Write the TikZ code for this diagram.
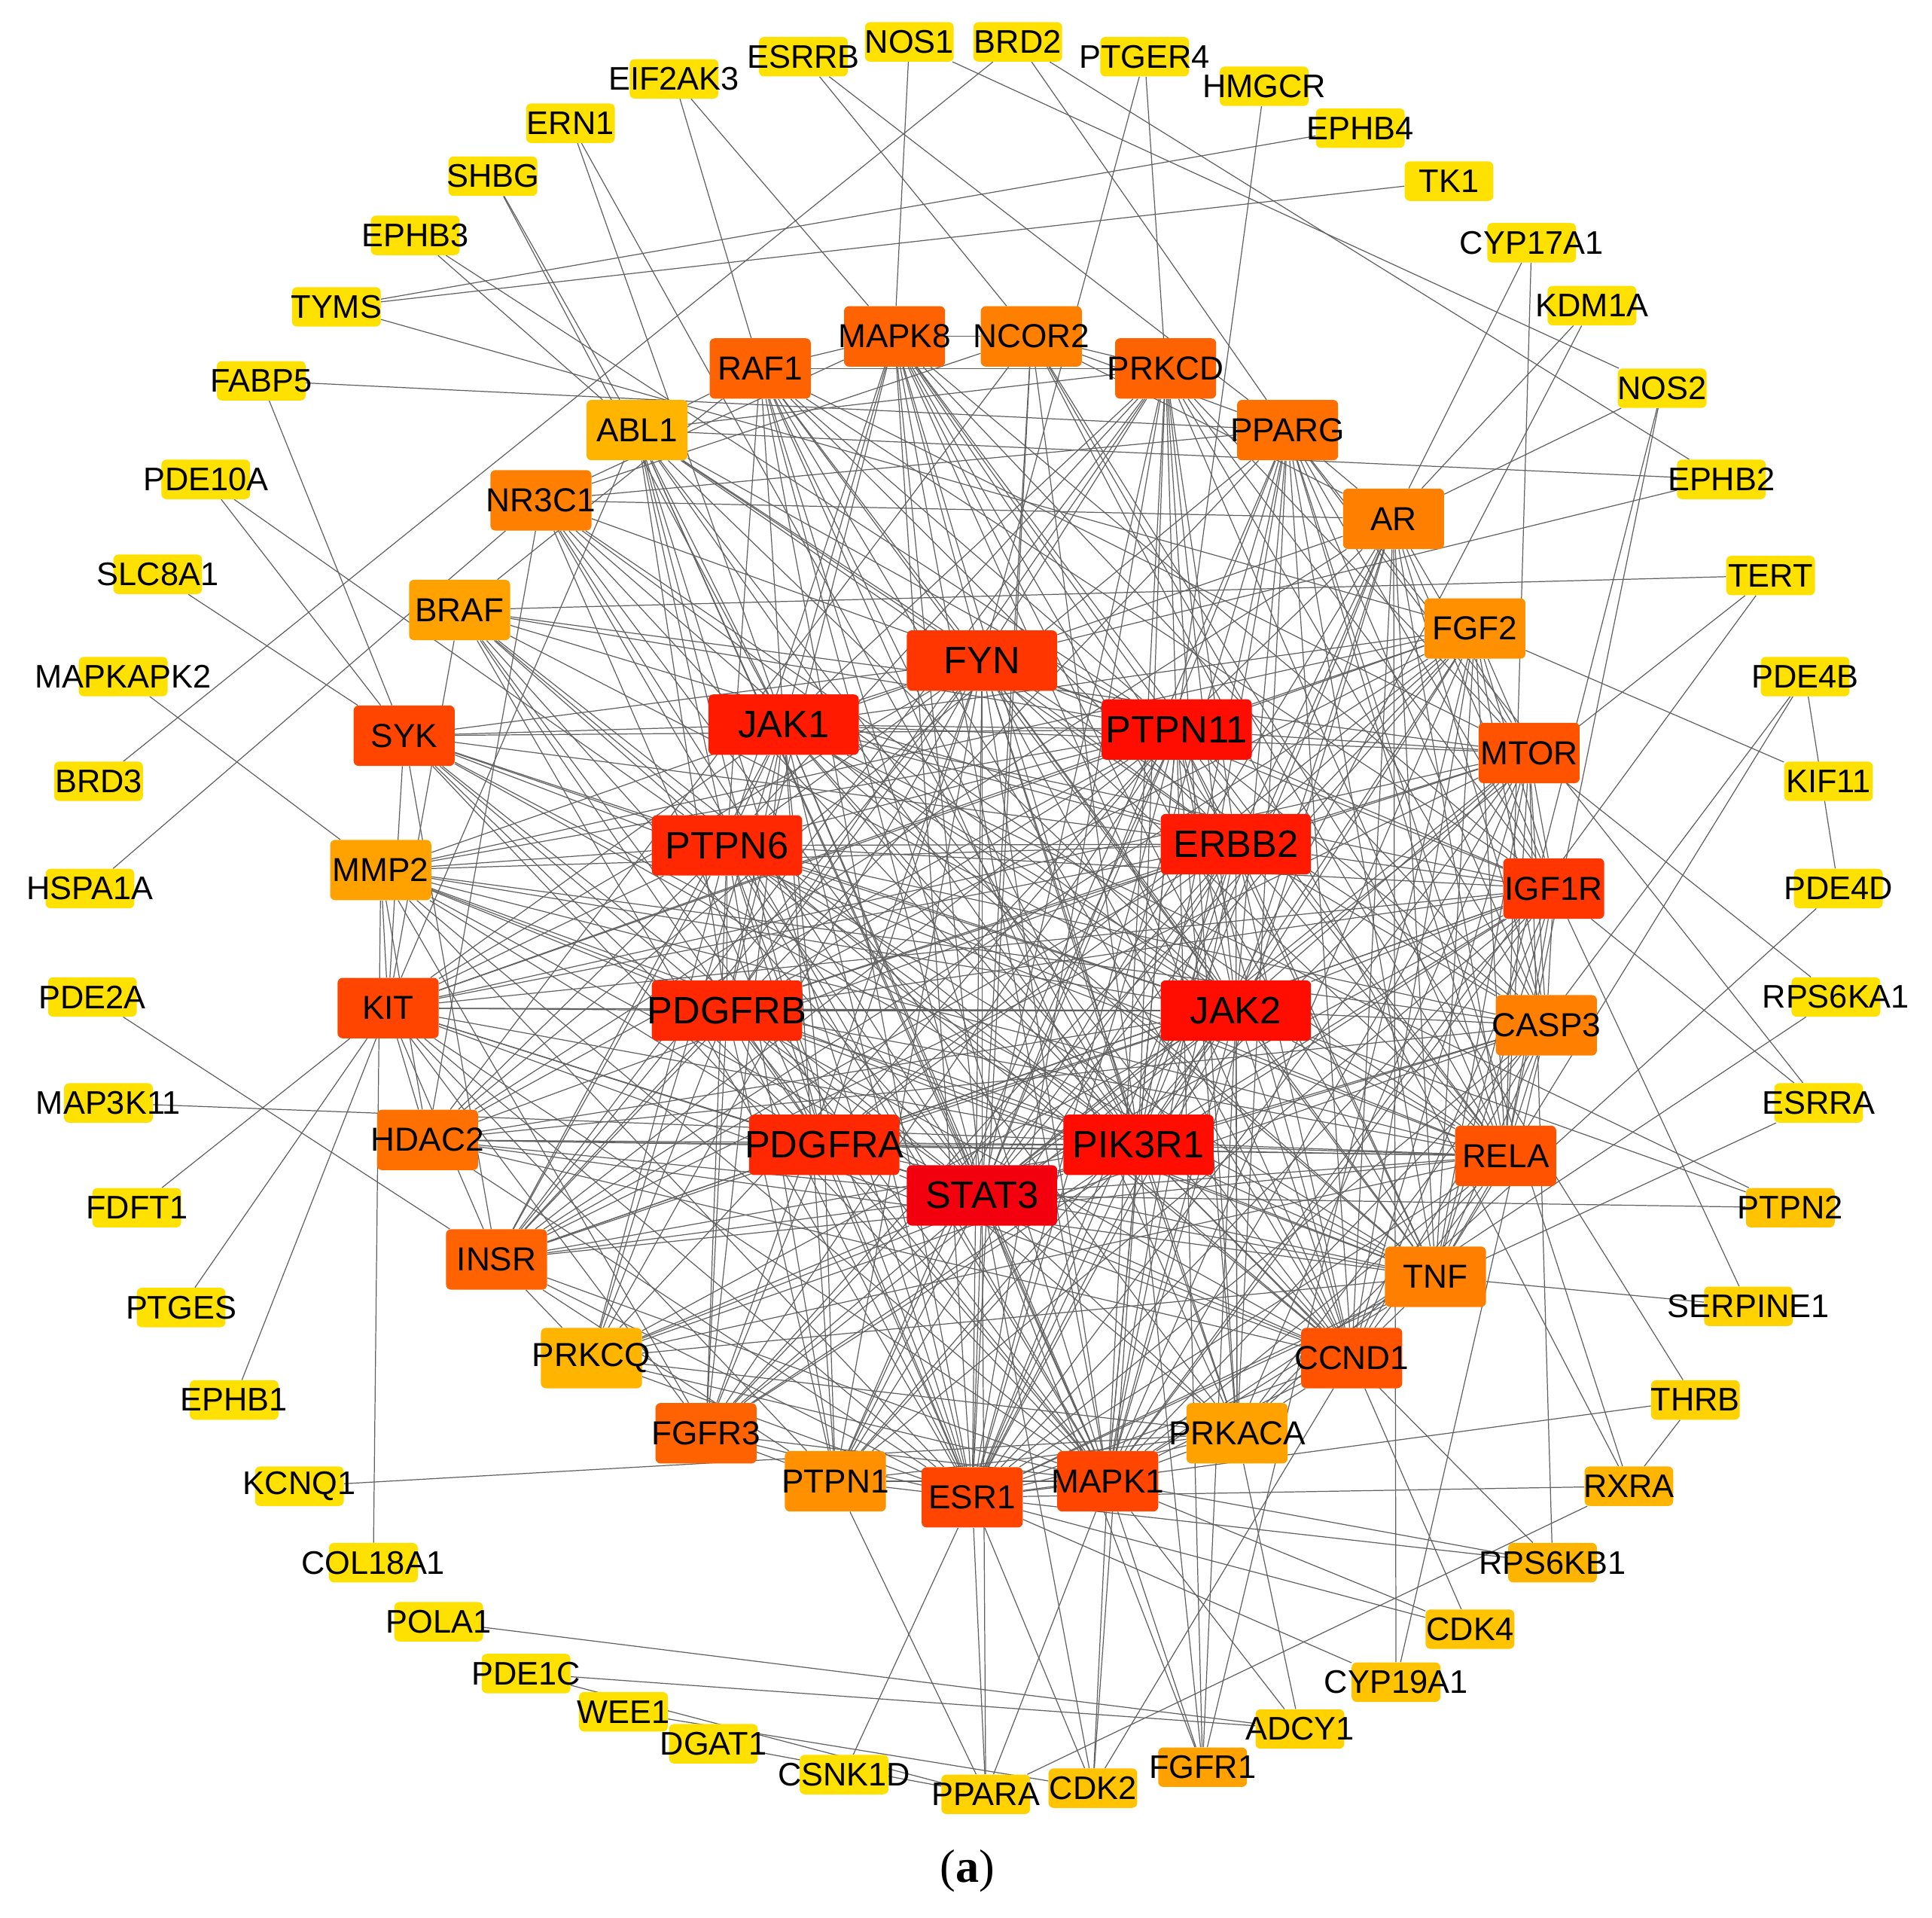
\documentclass[tikz,border=0pt]{standalone}
\usepackage{fontspec}
\setmainfont{Liberation Sans}
\newfontfamily\capserif{Liberation Serif}
\usetikzlibrary{backgrounds}
\definecolor{Y0}{HTML}{FFE100}
\definecolor{Y1}{HTML}{FFD200}
\definecolor{Y2}{HTML}{FFC300}
\definecolor{O0}{HTML}{FFB400}
\definecolor{O1}{HTML}{FFA200}
\definecolor{O2}{HTML}{FF9100}
\definecolor{O3}{HTML}{FF8000}
\definecolor{O4}{HTML}{FF7000}
\definecolor{O5}{HTML}{FF6200}
\definecolor{O6}{HTML}{FF5300}
\definecolor{R0}{HTML}{FF4500}
\definecolor{R1}{HTML}{FF3600}
\definecolor{R2}{HTML}{FF2800}
\definecolor{R3}{HTML}{FF1A00}
\definecolor{R4}{HTML}{FF0D00}
\definecolor{R5}{HTML}{F2000E}
\newcommand\gnode[4]{\node[#1, fill=#4, label={[#1txt]center:#2}] (#2) at (#3) {};}
\begin{document}
\begin{tikzpicture}[x=1pt,y=-1pt,
  gbox/.style={rectangle, rounded corners=4pt, draw=none, inner sep=0pt},
  outbox/.style={gbox, minimum width=72pt, minimum height=32pt},
  midbox/.style={gbox, minimum width=82pt, minimum height=49pt},
  bigbox/.style={gbox, minimum width=122pt, minimum height=49pt},
  outboxtxt/.style={font=\fontsize{26.5}{28}\selectfont, inner sep=0pt, text=black},
  midboxtxt/.style={font=\fontsize{27}{29}\selectfont, inner sep=0pt, text=black},
  bigboxtxt/.style={font=\fontsize{31}{33}\selectfont, inner sep=0pt, text=black},
  lnk/.style={draw=black!62, line width=0.75pt}]
\useasboundingbox (0,0) rectangle (1568,1556);
% outer ring
\gnode{outbox}{NOS1}{738,34}{Y0}
\gnode{outbox}{BRD2}{826,34}{Y0}
\gnode{outbox}{ESRRB}{652,46}{Y0}
\gnode{outbox}{PTGER4}{929,46}{Y0}
\gnode{outbox}{EIF2AK3}{547,64}{Y0}
\gnode{outbox}{HMGCR}{1026,70}{Y0}
\gnode{outbox}{ERN1}{463,100}{Y0}
\gnode{outbox}{EPHB4}{1104,104}{Y0}
\gnode{outbox}{SHBG}{400,143}{Y0}
\gnode{outbox}{TK1}{1176,147}{Y0}
\gnode{outbox}{EPHB3}{337,191}{Y0}
\gnode{outbox}{CYP17A1}{1243,197}{Y0}
\gnode{outbox}{TYMS}{273,249}{Y0}
\gnode{outbox}{KDM1A}{1292,248}{Y0}
\gnode{outbox}{FABP5}{212,309}{Y0}
\gnode{outbox}{NOS2}{1349,315}{Y0}
\gnode{outbox}{PDE10A}{167,389}{Y0}
\gnode{outbox}{EPHB2}{1397,389}{Y0}
\gnode{outbox}{SLC8A1}{128,466}{Y0}
\gnode{outbox}{TERT}{1437,467}{Y0}
\gnode{outbox}{MAPKAPK2}{100,549}{Y0}
\gnode{outbox}{PDE4B}{1465,549}{Y0}
\gnode{outbox}{BRD3}{80,634}{Y0}
\gnode{outbox}{KIF11}{1484,634}{Y0}
\gnode{outbox}{HSPA1A}{73,721}{Y0}
\gnode{outbox}{PDE4D}{1492,721}{Y0}
\gnode{outbox}{PDE2A}{75,809}{Y0}
\gnode{outbox}{RPS6KA1}{1490,809}{Y0}
\gnode{outbox}{MAP3K11}{88,895}{Y0}
\gnode{outbox}{ESRRA}{1476,895}{Y0}
\gnode{outbox}{FDFT1}{111,980}{Y0}
\gnode{outbox}{PTPN2}{1453,980}{Y2}
\gnode{outbox}{PTGES}{147,1061}{Y0}
\gnode{outbox}{SERPINE1}{1419,1060}{Y1}
\gnode{outbox}{EPHB1}{190,1136}{Y0}
\gnode{outbox}{THRB}{1376,1136}{Y1}
\gnode{outbox}{KCNQ1}{243,1206}{Y0}
\gnode{outbox}{RXRA}{1322,1206}{O0}
\gnode{outbox}{COL18A1}{303,1268}{Y0}
\gnode{outbox}{RPS6KB1}{1260,1268}{O0}
\gnode{outbox}{POLA1}{356,1316}{Y0}
\gnode{outbox}{CDK4}{1193,1322}{Y2}
\gnode{outbox}{PDE1C}{427,1358}{Y0}
\gnode{outbox}{CYP19A1}{1133,1365}{Y2}
\gnode{outbox}{WEE1}{506,1389}{Y0}
\gnode{outbox}{ADCY1}{1055,1403}{Y1}
\gnode{outbox}{DGAT1}{579,1415}{Y0}
\gnode{outbox}{FGFR1}{976,1434}{O1}
\gnode{outbox}{CSNK1D}{685,1440}{Y0}
\gnode{outbox}{CDK2}{887,1451}{Y2}
\gnode{outbox}{PPARA}{800,1456}{Y1}
% middle ring
\gnode{midbox}{RAF1}{617,299}{O5}
\gnode{midbox}{MAPK8}{726,273}{O5}
\gnode{midbox}{NCOR2}{837,273}{O3}
\gnode{midbox}{PRKCD}{946,299}{O5}
\gnode{midbox}{ABL1}{517,349}{O0}
\gnode{midbox}{PPARG}{1045,349}{O4}
\gnode{midbox}{NR3C1}{439,406}{O3}
\gnode{midbox}{AR}{1131,421}{O3}
\gnode{midbox}{BRAF}{373,495}{O1}
\gnode{midbox}{FGF2}{1197,510}{O2}
\gnode{midbox}{SYK}{328,597}{R0}
\gnode{midbox}{MTOR}{1241,611}{O6}
\gnode{midbox}{MMP2}{309,706}{O1}
\gnode{midbox}{IGF1R}{1261,721}{R1}
\gnode{midbox}{KIT}{315,818}{R0}
\gnode{midbox}{CASP3}{1255,832}{O3}
\gnode{midbox}{HDAC2}{347,925}{O4}
\gnode{midbox}{RELA}{1222,938}{O6}
\gnode{midbox}{INSR}{403,1022}{O5}
\gnode{midbox}{TNF}{1165,1036}{O3}
\gnode{midbox}{PRKCQ}{480,1102}{O0}
\gnode{midbox}{CCND1}{1097,1102}{O6}
\gnode{midbox}{FGFR3}{573,1163}{O5}
\gnode{midbox}{PRKACA}{1004,1163}{O1}
\gnode{midbox}{PTPN1}{678,1202}{O2}
\gnode{midbox}{ESR1}{789,1215}{R0}
\gnode{midbox}{MAPK1}{899,1202}{R0}
% core
\gnode{bigbox}{FYN}{797,536}{R1}
\gnode{bigbox}{JAK1}{636,588}{R3}
\gnode{bigbox}{PTPN11}{955,592}{R4}
\gnode{bigbox}{PTPN6}{590,686}{R2}
\gnode{bigbox}{ERBB2}{1003,685}{R3}
\gnode{bigbox}{PDGFRB}{590,820}{R2}
\gnode{bigbox}{JAK2}{1003,820}{R4}
\gnode{bigbox}{PDGFRA}{669,929}{R2}
\gnode{bigbox}{PIK3R1}{924,929}{R4}
\gnode{bigbox}{STAT3}{797,970}{R5}
\node[font=\capserif\fontsize{38}{40}\selectfont, inner sep=0pt] (cap) at (785,1518) {(\textbf{a})};
\begin{scope}[on background layer]
% core clique
\foreach \a/\b in {FYN/JAK1,FYN/PTPN11,FYN/PTPN6,FYN/ERBB2,FYN/PDGFRB,FYN/JAK2,FYN/PDGFRA,FYN/PIK3R1,FYN/STAT3,
JAK1/PTPN11,JAK1/PTPN6,JAK1/ERBB2,JAK1/PDGFRB,JAK1/JAK2,JAK1/PDGFRA,JAK1/PIK3R1,JAK1/STAT3,
PTPN11/PTPN6,PTPN11/ERBB2,PTPN11/PDGFRB,PTPN11/JAK2,PTPN11/PDGFRA,PTPN11/PIK3R1,PTPN11/STAT3,
PTPN6/ERBB2,PTPN6/PDGFRB,PTPN6/JAK2,PTPN6/PDGFRA,PTPN6/PIK3R1,PTPN6/STAT3,
ERBB2/PDGFRB,ERBB2/JAK2,ERBB2/PDGFRA,ERBB2/PIK3R1,ERBB2/STAT3,
PDGFRB/JAK2,PDGFRB/PDGFRA,PDGFRB/PIK3R1,PDGFRB/STAT3,
JAK2/PDGFRA,JAK2/PIK3R1,JAK2/STAT3,PDGFRA/PIK3R1,PDGFRA/STAT3,PIK3R1/STAT3}
  \draw[lnk] (\a) -- (\b);
% middle ring
\foreach \a/\b in {RAF1/FYN,RAF1/JAK1,RAF1/PTPN11,RAF1/ERBB2,RAF1/JAK2,RAF1/PIK3R1,RAF1/STAT3,RAF1/PTPN6,RAF1/MAPK8,RAF1/PRKCD,RAF1/BRAF,RAF1/MAPK1,RAF1/ESR1,RAF1/PRKACA,RAF1/MTOR,RAF1/IGF1R,RAF1/CCND1,
MAPK8/FYN,MAPK8/JAK1,MAPK8/JAK2,MAPK8/STAT3,MAPK8/PIK3R1,MAPK8/PTPN11,MAPK8/ERBB2,MAPK8/PTPN6,MAPK8/TNF,MAPK8/RELA,MAPK8/ESR1,MAPK8/MAPK1,MAPK8/CASP3,MAPK8/PDGFRB,MAPK8/NCOR2,MAPK8/IGF1R,MAPK8/CCND1,
NCOR2/PPARG,NCOR2/AR,NCOR2/ESR1,NCOR2/RELA,NCOR2/STAT3,NCOR2/NR3C1,NCOR2/HDAC2,NCOR2/PIK3R1,NCOR2/PRKCD,
PRKCD/FYN,PRKCD/PTPN11,PRKCD/JAK2,PRKCD/STAT3,PRKCD/PIK3R1,PRKCD/ERBB2,PRKCD/PDGFRB,PRKCD/PTPN6,PRKCD/MTOR,PRKCD/IGF1R,PRKCD/CASP3,PRKCD/RELA,PRKCD/MAPK1,PRKCD/ESR1,PRKCD/PRKACA,PRKCD/INSR,PRKCD/JAK1,
ABL1/FYN,ABL1/JAK1,ABL1/PTPN11,ABL1/PTPN6,ABL1/ERBB2,ABL1/JAK2,ABL1/STAT3,ABL1/PIK3R1,ABL1/PDGFRB,ABL1/PDGFRA,ABL1/KIT,ABL1/CCND1,ABL1/MAPK1,ABL1/ESR1,ABL1/CASP3,ABL1/PRKCD,ABL1/RAF1,
PPARG/NR3C1,PPARG/AR,PPARG/ESR1,PPARG/RELA,PPARG/TNF,PPARG/STAT3,PPARG/MAPK1,PPARG/CCND1,PPARG/PIK3R1,PPARG/MTOR,PPARG/IGF1R,PPARG/PTPN1,PPARG/INSR,PPARG/HDAC2,PPARG/JAK2,PPARG/CASP3,PPARG/PRKACA,
NR3C1/AR,NR3C1/ESR1,NR3C1/RELA,NR3C1/STAT3,NR3C1/JAK2,NR3C1/PIK3R1,NR3C1/HDAC2,NR3C1/TNF,NR3C1/MAPK1,NR3C1/PTPN11,NR3C1/MAPK8,NR3C1/PRKACA}
  \draw[lnk] (\a) -- (\b);
\foreach \a/\b in {AR/ESR1,AR/STAT3,AR/PIK3R1,AR/ERBB2,AR/JAK2,AR/IGF1R,AR/MTOR,AR/CCND1,AR/MAPK1,AR/RELA,AR/HDAC2,AR/FYN,AR/PTPN11,AR/TNF,AR/CASP3,
BRAF/MAPK1,BRAF/ERBB2,BRAF/PTPN11,BRAF/JAK2,BRAF/STAT3,BRAF/PIK3R1,BRAF/PDGFRA,BRAF/KIT,BRAF/MTOR,BRAF/PTPN6,BRAF/ESR1,BRAF/CCND1,
FGF2/FGFR3,FGF2/PDGFRB,FGF2/PDGFRA,FGF2/STAT3,FGF2/PIK3R1,FGF2/PTPN11,FGF2/ERBB2,FGF2/JAK2,FGF2/MTOR,FGF2/IGF1R,FGF2/TNF,FGF2/CASP3,FGF2/RELA,FGF2/MAPK1,FGF2/CCND1,FGF2/MMP2,FGF2/INSR,FGF2/KIT,FGF2/JAK1,
SYK/FYN,SYK/JAK1,SYK/JAK2,SYK/PTPN6,SYK/PTPN11,SYK/STAT3,SYK/PIK3R1,SYK/PDGFRB,SYK/PDGFRA,SYK/KIT,SYK/ERBB2,SYK/MAPK1,SYK/RELA,SYK/TNF,SYK/INSR,
MTOR/PIK3R1,MTOR/STAT3,MTOR/JAK2,MTOR/ERBB2,MTOR/IGF1R,MTOR/INSR,MTOR/RELA,MTOR/TNF,MTOR/CASP3,MTOR/CCND1,MTOR/ESR1,MTOR/MAPK1,MTOR/JAK1,MTOR/PTPN11,MTOR/PDGFRB,MTOR/PRKACA,MTOR/KIT,
MMP2/STAT3,MMP2/PIK3R1,MMP2/ERBB2,MMP2/JAK2,MMP2/PDGFRB,MMP2/PDGFRA,MMP2/KIT,MMP2/TNF,MMP2/RELA,MMP2/CASP3,MMP2/ESR1,MMP2/MAPK1,MMP2/FYN,MMP2/PTPN11,MMP2/PTPN6,MMP2/HDAC2,MMP2/FGFR3}
  \draw[lnk] (\a) -- (\b);
\foreach \a/\b in {IGF1R/PIK3R1,IGF1R/STAT3,IGF1R/JAK2,IGF1R/JAK1,IGF1R/ERBB2,IGF1R/PTPN11,IGF1R/PTPN6,IGF1R/PTPN1,IGF1R/INSR,IGF1R/FYN,IGF1R/PDGFRB,IGF1R/PDGFRA,IGF1R/CASP3,IGF1R/RELA,IGF1R/TNF,IGF1R/CCND1,IGF1R/ESR1,IGF1R/MAPK1,IGF1R/KIT,IGF1R/FGFR3,
KIT/PIK3R1,KIT/STAT3,KIT/JAK2,KIT/JAK1,KIT/FYN,KIT/PTPN11,KIT/PTPN6,KIT/PDGFRB,KIT/PDGFRA,KIT/ERBB2,KIT/PTPN1,KIT/INSR,KIT/HDAC2,KIT/MAPK1,KIT/FGFR3,KIT/CCND1,KIT/ESR1,
CASP3/STAT3,CASP3/PIK3R1,CASP3/ERBB2,CASP3/JAK2,CASP3/TNF,CASP3/RELA,CASP3/ESR1,CASP3/MAPK1,CASP3/CCND1,CASP3/PTPN6,CASP3/HDAC2,CASP3/PRKCQ,CASP3/PTPN11,
HDAC2/STAT3,HDAC2/PIK3R1,HDAC2/JAK2,HDAC2/RELA,HDAC2/ESR1,HDAC2/TNF,HDAC2/CCND1,HDAC2/PDGFRA,HDAC2/PTPN11,HDAC2/PTPN6,HDAC2/ERBB2,
RELA/STAT3,RELA/PIK3R1,RELA/JAK2,RELA/JAK1,RELA/ERBB2,RELA/TNF,RELA/CCND1,RELA/ESR1,RELA/MAPK1,RELA/PTPN11,RELA/PTPN6,RELA/FYN,RELA/PDGFRB,RELA/PDGFRA,RELA/PRKACA,RELA/PRKCQ,RELA/INSR,
INSR/PIK3R1,INSR/STAT3,INSR/JAK2,INSR/JAK1,INSR/PTPN11,INSR/PTPN6,INSR/PTPN1,INSR/FYN,INSR/ERBB2,INSR/PDGFRB,INSR/PDGFRA,INSR/MAPK1,INSR/PRKCQ,INSR/ESR1}
  \draw[lnk] (\a) -- (\b);
\foreach \a/\b in {TNF/STAT3,TNF/PIK3R1,TNF/JAK2,TNF/JAK1,TNF/ERBB2,TNF/PTPN11,TNF/PTPN6,TNF/FYN,TNF/CCND1,TNF/ESR1,TNF/MAPK1,TNF/PRKCQ,TNF/PDGFRB,TNF/PDGFRA,
PRKCQ/FYN,PRKCQ/JAK1,PRKCQ/JAK2,PRKCQ/PTPN6,PRKCQ/PTPN11,PRKCQ/STAT3,PRKCQ/PIK3R1,PRKCQ/PDGFRB,PRKCQ/MAPK1,PRKCQ/ESR1,PRKCQ/PRKACA,
CCND1/STAT3,CCND1/PIK3R1,CCND1/JAK2,CCND1/JAK1,CCND1/ERBB2,CCND1/PTPN11,CCND1/PTPN6,CCND1/FYN,CCND1/ESR1,CCND1/MAPK1,CCND1/PDGFRB,CCND1/PDGFRA,CCND1/PRKACA,
FGFR3/STAT3,FGFR3/PIK3R1,FGFR3/JAK2,FGFR3/JAK1,FGFR3/PTPN11,FGFR3/PTPN6,FGFR3/FYN,FGFR3/ERBB2,FGFR3/PDGFRB,FGFR3/PDGFRA,FGFR3/MAPK1,FGFR3/ESR1,FGFR3/PTPN1,
PRKACA/STAT3,PRKACA/PIK3R1,PRKACA/JAK2,PRKACA/ERBB2,PRKACA/PTPN11,PRKACA/ESR1,PRKACA/MAPK1,PRKACA/PTPN1,PRKACA/FYN,PRKACA/PDGFRB,
PTPN1/STAT3,PTPN1/JAK2,PTPN1/JAK1,PTPN1/ERBB2,PTPN1/PTPN11,PTPN1/PTPN6,PTPN1/FYN,PTPN1/PDGFRB,PTPN1/PDGFRA,PTPN1/ESR1,PTPN1/MAPK1,PTPN1/PIK3R1,
ESR1/STAT3,ESR1/PIK3R1,ESR1/JAK2,ESR1/JAK1,ESR1/ERBB2,ESR1/PTPN11,ESR1/PTPN6,ESR1/FYN,ESR1/PDGFRB,ESR1/PDGFRA,ESR1/MAPK1,
MAPK1/STAT3,MAPK1/PIK3R1,MAPK1/JAK2,MAPK1/JAK1,MAPK1/ERBB2,MAPK1/PTPN11,MAPK1/PTPN6,MAPK1/FYN,MAPK1/PDGFRB,MAPK1/PDGFRA}
  \draw[lnk] (\a) -- (\b);
% outer ring links
\foreach \a/\b in {NOS1/MAPK8,NOS1/NOS2,BRD2/BRD3,BRD2/PPARG,BRD2/EPHB2,ESRRB/NCOR2,ESRRB/PPARG,PTGER4/FYN,PTGER4/PRKCD,
EIF2AK3/RAF1,EIF2AK3/MAPK8,HMGCR/PTPN11,ERN1/JAK1,ERN1/PIK3R1,EPHB4/TYMS,SHBG/ABL1,SHBG/JAK1,TK1/TYMS,
EPHB3/ABL1,EPHB3/PTPN11,TYMS/FGF2,FABP5/PPARG,FABP5/SYK,PDE10A/SYK,PDE10A/PTPN6,SLC8A1/SYK,MAPKAPK2/MMP2,
HSPA1A/NR3C1,PDE2A/INSR,MAP3K11/RELA,FDFT1/KIT,PTGES/KIT,EPHB1/KIT,KCNQ1/PRKACA,COL18A1/MMP2,
POLA1/ADCY1,PDE1C/PPARA,PDE1C/ADCY1,WEE1/CDK2,DGAT1/PPARA,CSNK1D/ESR1,
PPARA/PTPN1,PPARA/ESR1,PPARA/STAT3,PPARA/MAPK1,PPARA/RXRA,
CDK2/CCND1,CDK2/ESR1,CDK2/STAT3,CDK2/PIK3R1,CDK2/MAPK1,
FGFR1/FGF2,FGFR1/STAT3,FGFR1/PIK3R1,FGFR1/PTPN11,FGFR1/JAK2,FGFR1/MAPK1,
ADCY1/PRKACA,ADCY1/MAPK1,CYP19A1/ESR1,CYP19A1/AR,CYP19A1/CASP3,
CDK4/CCND1,CDK4/MAPK1,CDK4/ESR1,RPS6KB1/MTOR,RPS6KB1/ESR1,RPS6KB1/MAPK1,RPS6KB1/PIK3R1,
RXRA/PPARG,RXRA/NCOR2,RXRA/ESR1,RXRA/THRB,THRB/NCOR2,THRB/ESR1,SERPINE1/TNF,SERPINE1/IGF1R,
PTPN2/JAK1,PTPN2/STAT3,PTPN2/JAK2,ESRRA/PPARG,ESRRA/IGF1R,ESRRA/ESR1,RPS6KA1/MAPK1,RPS6KA1/MTOR,
PDE4D/PRKACA,PDE4D/PDE4B,KIF11/FGF2,PDE4B/PRKACA,PDE4B/TNF,TERT/BRAF,TERT/MAPK1,TERT/STAT3,
EPHB2/ABL1,EPHB2/FYN,NOS2/TNF,NOS2/RELA,NOS2/AR,KDM1A/AR,KDM1A/ESR1,CYP17A1/AR,CYP17A1/RELA}
  \draw[lnk] (\a) -- (\b);
\end{scope}
\end{tikzpicture}
\end{document}
